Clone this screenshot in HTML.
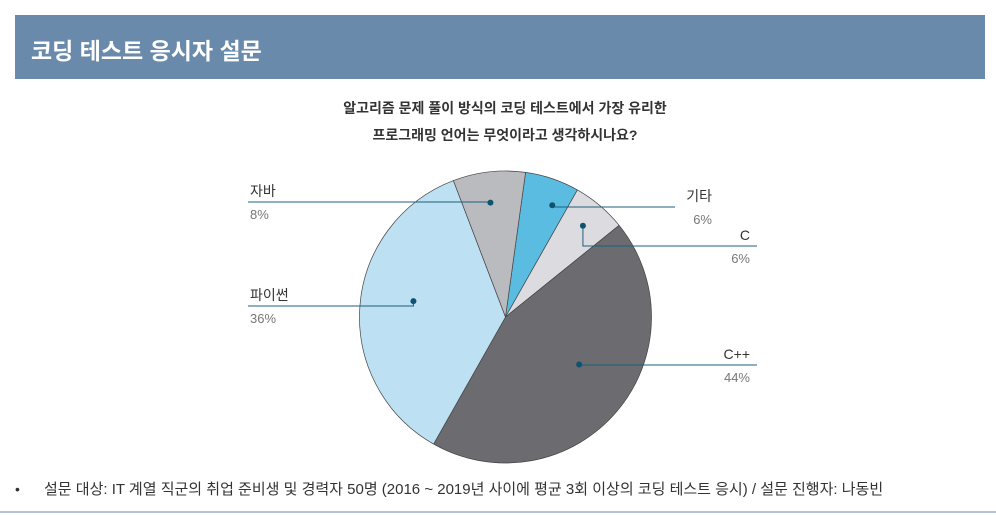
<!DOCTYPE html>
<html><head><meta charset="utf-8"><style>
body{margin:0;width:996px;height:515px;background:#fff;overflow:hidden;font-family:"Liberation Sans","Noto Sans CJK KR",sans-serif;position:relative}
.bar{position:absolute;left:15px;top:15px;width:970px;height:64px;background:#6a8aab}
.bar span{position:absolute;left:16px;top:17px;color:#fff;font-size:23px;font-weight:bold}
</style></head><body>
<div class="bar"><span>코딩 테스트 응시자 설문</span></div>
<svg width="996" height="515" style="position:absolute;left:0;top:0">
<text x="505" y="113" text-anchor="middle" font-size="14" font-weight="bold" fill="#333">알고리즘 문제 풀이 방식의 코딩 테스트에서 가장 유리한</text>
<text x="505" y="140" text-anchor="middle" font-size="14" font-weight="bold" fill="#333">프로그래밍 언어는 무엇이라고 생각하시나요?</text>
<g id="pie"></g>
<g id="labels"></g>
<text x="15" y="494" font-size="14" fill="#333">•</text>
<text x="44" y="494" font-size="15" fill="#333">설문 대상: IT 계열 직군의 취업 준비생 및 경력자 50명 (2016 ~ 2019년 사이에 평균 3회 이상의 코딩 테스트 응시) / 설문 진행자: 나동빈</text>
<line x1="0" y1="512" x2="996" y2="512" stroke="#6a8aab" stroke-width="1"/>
</svg>
<script>
const categories=["기타","C","C++","파이썬","자바"];
const values=[6,6,44,36,8];
const colors=["#5bbce2","#dcdce0","#6b6b70","#bde0f2","#babbbe"];
const cx=505.5,cy=317,r=146,start=7.9;
const ns="http://www.w3.org/2000/svg";
const pie=document.getElementById('pie'),lab=document.getElementById('labels');
const total=values.reduce((a,b)=>a+b,0);
function pt(a,rr){const t=(a-90)*Math.PI/180;return [cx+rr*Math.cos(t),cy+rr*Math.sin(t)];}
// label layout: [dotRadiusFrac, side, lineY, lineEndX, textX, angleOffset]
const layout=[[0.83,'R',207,675,712,4],[0.82,'R',246,757,750,0],[0.6,'R',365,757,750,-7.5],[0.64,'L',306,248,250,5.5],[0.79,'L',202,248,250,-1]];
let a=start;
values.forEach((v,i)=>{
 const sw=v/total*360,a2=a+sw;
 const p1=pt(a,r),p2=pt(a2,r);
 const path=document.createElementNS(ns,'path');
 path.setAttribute('d',`M${cx},${cy}L${p1[0]},${p1[1]}A${r},${r} 0 ${sw>180?1:0} 1 ${p2[0]},${p2[1]}Z`);
 path.setAttribute('fill',colors[i]);path.setAttribute('stroke','#444');path.setAttribute('stroke-width','0.7');
 
 
 pie.appendChild(path);
 const L=layout[i];const mid=a+sw/2+L[5];const d=pt(mid,r*L[0]);
 const ly=L[2];
 const line=document.createElementNS(ns,'polyline');
 line.setAttribute('points',`${d[0]},${d[1]} ${d[0]},${ly} ${L[3]},${ly}`);
 line.setAttribute('fill','none');line.setAttribute('stroke','#1d5f7c');line.setAttribute('stroke-width','1');
 
 
 lab.appendChild(line);
 const dot=document.createElementNS(ns,'circle');
 dot.setAttribute('cx',d[0]);dot.setAttribute('cy',d[1]);dot.setAttribute('r',3);dot.setAttribute('fill','#0e5470');
 
 
 lab.appendChild(dot);
 const anchor=L[1]==='R'?'end':'start';
 const t1=document.createElementNS(ns,'text');
 t1.setAttribute('x',L[4]);t1.setAttribute('y',ly-6);t1.setAttribute('text-anchor',anchor);t1.setAttribute('font-size','14');t1.setAttribute('fill','#333');
 t1.textContent=categories[i];
 
 
 lab.appendChild(t1);
 const t2=document.createElementNS(ns,'text');
 t2.setAttribute('x',L[4]);t2.setAttribute('y',ly+17);t2.setAttribute('text-anchor',anchor);t2.setAttribute('font-size','13');t2.setAttribute('fill','#777');
 t2.textContent=values[i]+'%';
 
 
 lab.appendChild(t2);
 a=a2;
});
</script>
</body></html>
